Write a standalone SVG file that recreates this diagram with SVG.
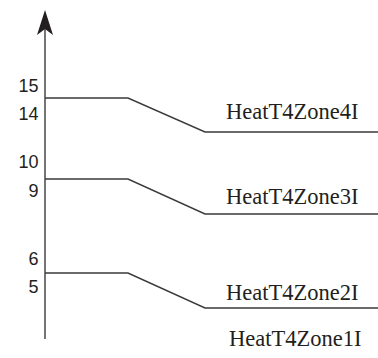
<svg xmlns="http://www.w3.org/2000/svg" width="378" height="358" viewBox="0 0 378 358">
<style>
.ln{fill:none;stroke:#3a3a3a;stroke-width:1.4}
.num{font-family:"Liberation Sans",Arial,sans-serif;font-size:18px;fill:#231f20;text-anchor:end}
.lbl{font-family:"Liberation Serif","Times New Roman",serif;font-size:22.5px;fill:#231f20}
</style>
<rect width="378" height="358" fill="#fff"/>
<g id="axis">
<line class="ln" x1="45" y1="339" x2="45" y2="20"/>
<path d="M45 10 L53 35 L45 29 L37 35 Z" fill="#231f20"/>
<text class="num" x="38.5" y="92">15</text>
<text class="num" x="38.5" y="120">14</text>
<text class="num" x="38.5" y="168">10</text>
<text class="num" x="38.5" y="197">9</text>
<text class="num" x="38.5" y="265">6</text>
<text class="num" x="38.5" y="293">5</text>
</g>
<g id="connectors">
<polyline class="ln" points="45,98 128,98 205,132 378,132"/>
<polyline class="ln" points="45,179 128,179 205,214 378,214"/>
<polyline class="ln" points="45,273 128,273 205,308 378,308"/>
</g>
<g id="zone4"><text class="lbl" x="226" y="119">HeatT4Zone4I</text></g>
<g id="zone3"><text class="lbl" x="226" y="204">HeatT4Zone3I</text></g>
<g id="zone2"><text class="lbl" x="226" y="300">HeatT4Zone2I</text></g>
<g id="zone1"><text class="lbl" x="229" y="346">HeatT4Zone1I</text></g>
</svg>
